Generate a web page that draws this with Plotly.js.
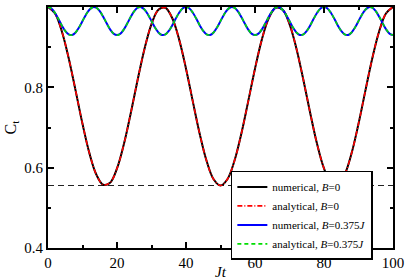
<!DOCTYPE html>
<html><head><meta charset="utf-8">
<script src="https://cdn.plot.ly/plotly-3.0.1.min.js"></script>
<style>html,body{margin:0;padding:0;background:#fff;}#chart{width:407px;height:280px;}</style>
</head><body><div id="chart"></div>
<script>
// B = 0 series (sampled every 2 units of Jt)
const tB0 = [0,2,4,6,8,10,12,14,16,18,20,22,24,26,28,30,32,34,36,38,40,42,44,46,48,50,52,54,56,58,60,62,64,66,68,70,72,74,76,78,80,82,84,86,88,90,92,94,96,98,100];
const numB0 = [1.000,0.9844,0.9398,0.8724,0.7918,0.7091,0.6362,0.5831,0.5574,0.5626,0.5980,0.6587,0.7362,0.8194,0.8969,0.9576,0.9930,0.9982,0.9725,0.9194,0.8465,0.7638,0.6832,0.6158,0.5712,0.5556,0.5712,0.6158,0.6832,0.7638,0.8465,0.9194,0.9725,0.9982,0.9930,0.9576,0.8969,0.8194,0.7362,0.6587,0.5980,0.5626,0.5574,0.5831,0.6362,0.7091,0.7918,0.8724,0.9398,0.9844,1.000];
const anaB0 = numB0.slice();
// B = 0.375J series (sampled every 1 unit of Jt)
const tB1 = [0,1,2,3,4,5,6,7,8,9,10,11,12,13,14,15,16,17,18,19,20,21,22,23,24,25,26,27,28,29,30,31,32,33,34,35,36,37,38,39,40,41,42,43,44,45,46,47,48,49,50,51,52,53,54,55,56,57,58,59,60,61,62,63,64,65,66,67,68,69,70,71,72,73,74,75,76,77,78,79,80,81,82,83,84,85,86,87,88,89,90,91,92,93,94,95,96,97,98,99,100];
const numB1 = [1.000,0.9962,0.9856,0.9705,0.9542,0.9403,0.9317,0.9304,0.9367,0.9491,0.9650,0.9809,0.9933,0.9996,0.9983,0.9897,0.9758,0.9595,0.9444,0.9338,0.9300,0.9338,0.9444,0.9595,0.9758,0.9897,0.9983,0.9996,0.9933,0.9809,0.9650,0.9491,0.9367,0.9304,0.9317,0.9403,0.9542,0.9705,0.9856,0.9962,
1.000,0.9962,0.9856,0.9705,0.9542,0.9403,0.9317,0.9304,0.9367,0.9491,0.9650,0.9809,0.9933,0.9996,0.9983,0.9897,0.9758,0.9595,0.9444,0.9338,0.9300,0.9338,0.9444,0.9595,0.9758,0.9897,0.9983,0.9996,0.9933,0.9809,0.9650,0.9491,0.9367,0.9304,0.9317,0.9403,0.9542,0.9705,0.9856,0.9962,
1.000,0.9962,0.9856,0.9705,0.9542,0.9403,0.9317,0.9304,0.9367,0.9491,0.9650,0.9809,0.9933,0.9996,0.9983,0.9897,0.9758,0.9595,0.9444,0.9338,0.9300];
const anaB1 = numB1.slice();
// minimum reference level
const refX = [0, 100];
const refY = [0.5556, 0.5556];
const xTicks = [0,20,40,60,80,100];
const yTicks = [0.4,0.6,0.8,1];
const yTickText = ['0.4','0.6','0.8','1'];

const names = ['numerical, <i>B</i>=0','analytical, <i>B</i>=0','numerical, <i>B</i>=0.375<i>J</i>','analytical, <i>B</i>=0.375<i>J</i>'];
const SERIF = 'Liberation Serif';

const traces = [
  {x: refX, y: refY, mode:'lines', line:{color:'#222', width:1.2, dash:'6px,4px'}, showlegend:false, hoverinfo:'skip'},
  {x: tB0, y: numB0, mode:'lines', name:names[0], line:{color:'#000', width:2, shape:'spline'}},
  {x: tB0, y: anaB0, mode:'lines', name:names[1], line:{color:'#ff0000', width:1.6, shape:'spline', dash:'5px,2px,1px,2px'}},
  {x: tB1, y: numB1, mode:'lines', name:names[2], line:{color:'#0000ff', width:2, shape:'spline'}},
  {x: tB1, y: anaB1, mode:'lines', name:names[3], line:{color:'#00dd00', width:1.6, shape:'spline', dash:'4px,3px'}}
];

const layout = {
  width:407, height:280,
  margin:{l:48, r:14, t:7, b:32},
  paper_bgcolor:'#fff', plot_bgcolor:'#fff',
  font:{family:SERIF, size:12, color:'#000'},
  xaxis: {
    showgrid:false, zeroline:false, showline:true, linecolor:'#000', linewidth:2,
    mirror:'ticks', ticks:'inside', ticklen:6, tickwidth:1.5, tickcolor:'#000',
    tickfont:{family:SERIF, size:15, color:'#000'},
    range:[0,100], tickmode:'array', tickvals:xTicks,
    minor:{dtick:10, tick0:0, ticks:'inside', ticklen:3, tickwidth:1.5, tickcolor:'#000'},
    title:{text:'<i>Jt</i>', font:{family:SERIF, size:15, color:'#000'}, standoff:0}
  },
  yaxis: {
    showgrid:false, zeroline:false, showline:true, linecolor:'#000', linewidth:2,
    mirror:'ticks', ticks:'inside', ticklen:6, tickwidth:1.5, tickcolor:'#000',
    tickfont:{family:SERIF, size:15, color:'#000'},
    range:[0.4,1], tickmode:'array', tickvals:yTicks, ticktext:yTickText,
    minor:{dtick:0.1, tick0:0.4, ticks:'inside', ticklen:3, tickwidth:1.5, tickcolor:'#000'},
    title:{text:'C<sub>t</sub>', font:{family:SERIF, size:16, color:'#000'}, standoff:4}
  },
  legend:{x:0.53, y:0.32, xanchor:'left', yanchor:'top', bgcolor:'#fff', bordercolor:'#000', borderwidth:1.5,
    font:{family:SERIF, size:11, color:'#000'}, tracegroupgap:0, itemwidth:30},
  showlegend:true
};

Plotly.newPlot('chart', traces, layout, {displayModeBar:false});
</script></body></html>
